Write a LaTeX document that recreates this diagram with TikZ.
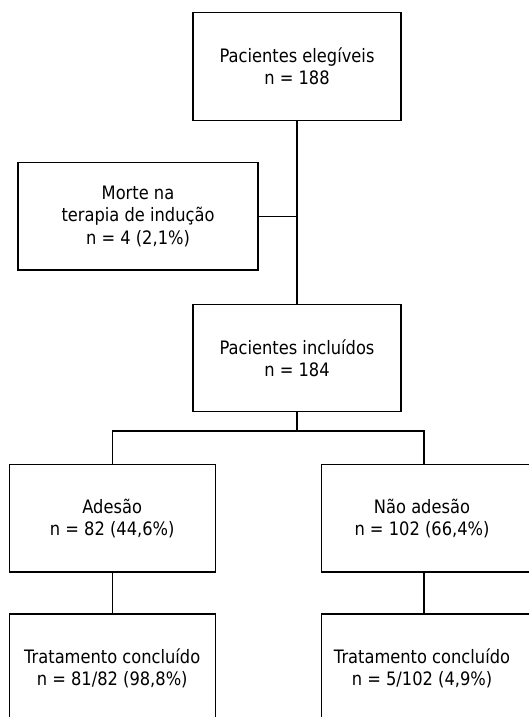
\documentclass[tikz,border=0pt]{standalone}
\usepackage{fontspec}
\setmainfont{DejaVu Sans}[FakeStretch=0.88]
\begin{document}
\begin{tikzpicture}[x=1pt,y=1pt,
  box/.style={draw=black,line width=1.3pt,rectangle,inner sep=0pt,align=center,
    minimum width=206pt,minimum height=107.5pt,font=\fontsize{18.5}{22.3}\selectfont},
  txt/.style={align=center,inner sep=0pt,font=\fontsize{18.5}{22.3}\selectfont},
  conn/.style={line width=1.3pt,draw=black}]
\useasboundingbox (0,0) rectangle (529,-717);
\clip (0,0) rectangle (529,-717);
\fill[white] (0,0) rectangle (529,-717);
% boxes
\node[box,minimum width=208pt] (b1) at (297,-66.5) {Pacientes elegíveis\\n = 188};
\node[box,minimum width=240pt] (b2) at (138,-216.3) {Morte na\\terapia de indução\\n = 4 (2,1\%)};
\node[box,minimum width=208pt] (b3) at (297,-358) {Pacientes incluídos\\n = 184};
\node[box] (b4) at (112.2,-518.3) {Adesão\\n = 82 (44,6\%)};
\node[box,minimum width=240pt,anchor=west] (b5) at (320.7,-518.3) {};
\node[txt] (b5t) at (422,-518.3) {Não adesão\\n = 102 (66,4\%)};
\node[box,minimum height=109pt,anchor=north] (b6) at (112.2,-613.3) {};
\node[txt] (b6t) at (112.2,-668) {Tratamento concluído\\n = 81/82 (98,8\%)};
\node[box,minimum width=240pt,minimum height=109pt,anchor=north west] (b7) at (320.7,-613.3) {};
\node[txt] (b7t) at (422,-668) {Tratamento concluído\\n = 5/102 (4,9\%)};
% connectors
\coordinate (bar) at (297,-431);
\coordinate (barL) at (112.2,-431);
\coordinate (barR) at (424,-431);
\draw[conn] (b1.south) -- (b3.north);
\draw[conn] (b2.east) -- (b2.east -| b1.south);
\draw[conn] (b3.south) -- (bar);
\draw[conn] (b4.north) -- (barL) -- (barR) -- (barR |- b5.north);
\draw[conn] (b4.south) -- (b6.north);
\draw[conn] (barR |- b5.south) -- (barR |- b7.north);
\end{tikzpicture}
\end{document}
